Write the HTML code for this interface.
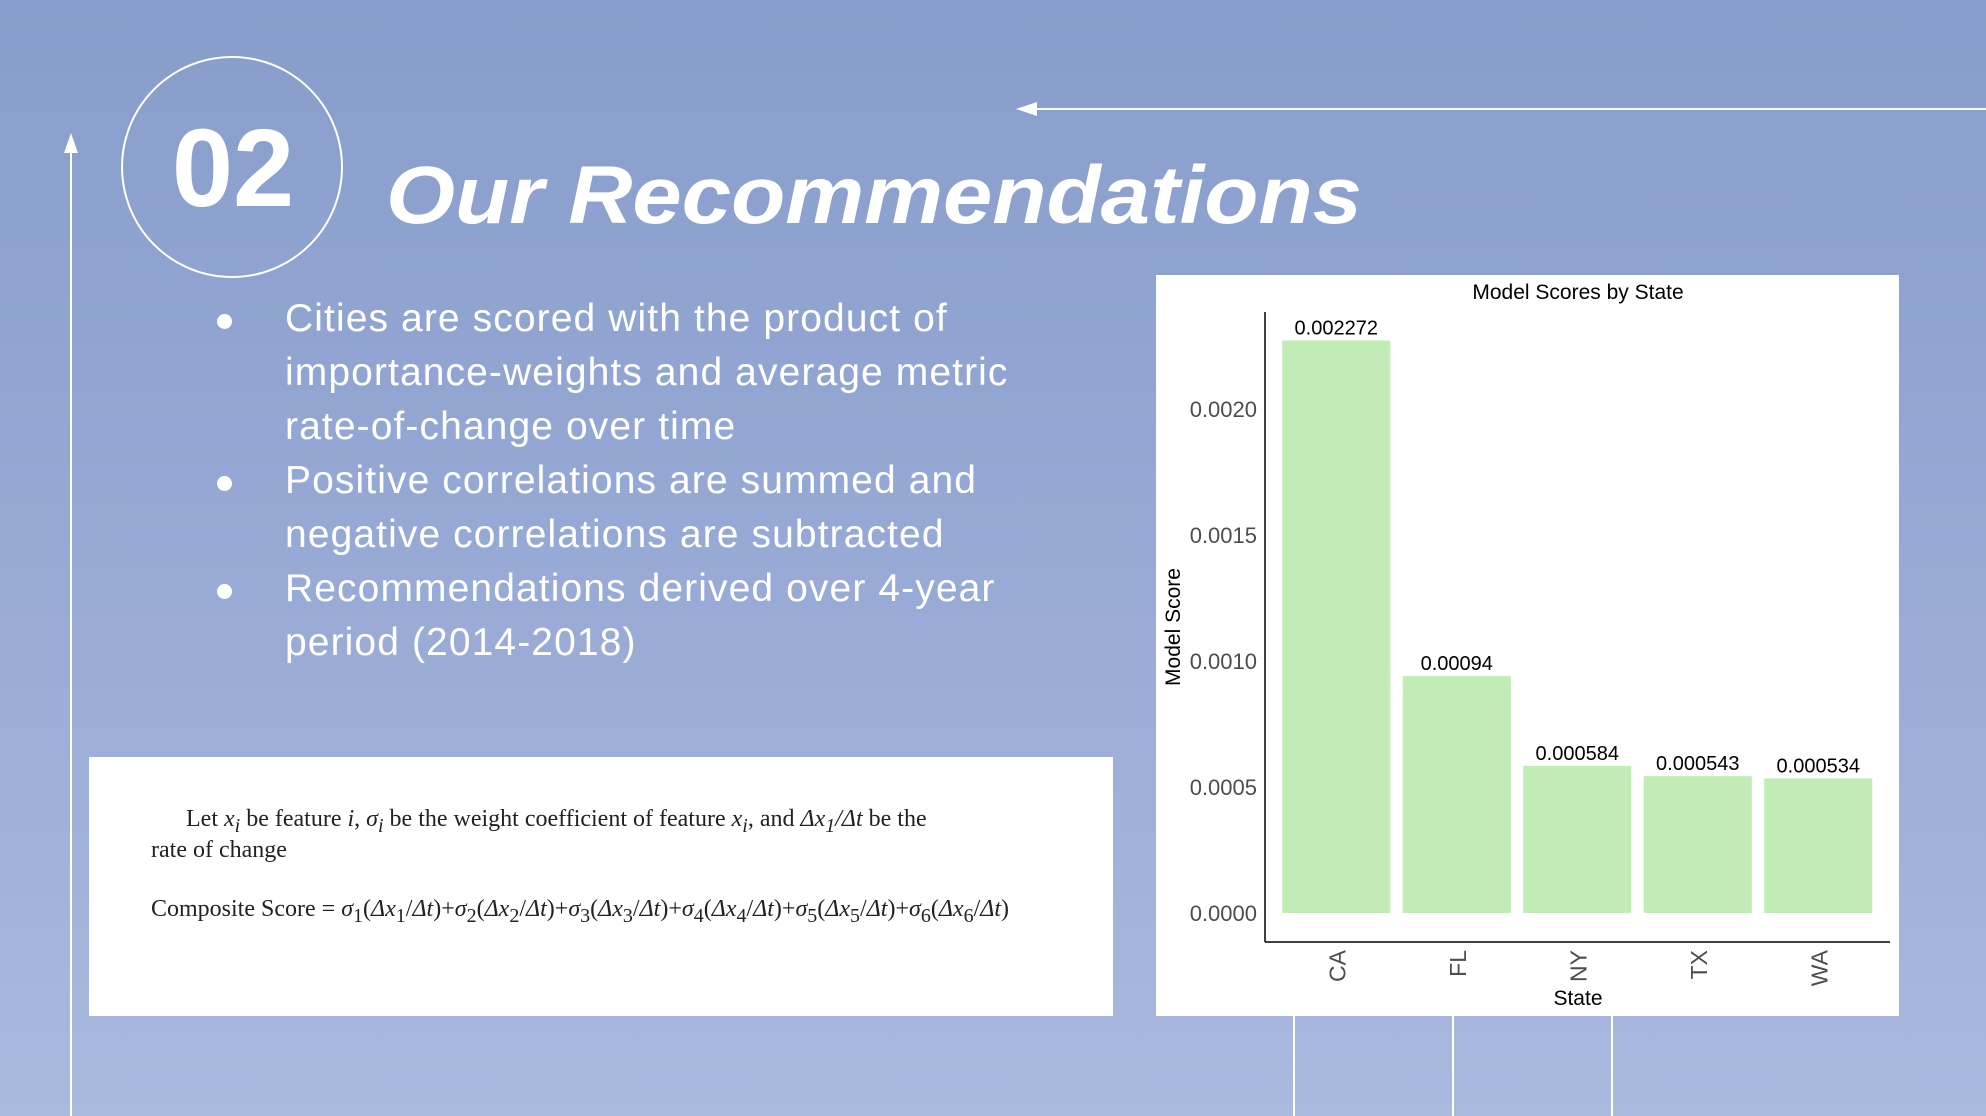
<!DOCTYPE html>
<html><head><meta charset="utf-8"><style>
html,body{margin:0;padding:0}
body{width:1986px;height:1116px;overflow:hidden;position:relative;font-family:"Liberation Sans",sans-serif;background:linear-gradient(180deg,#889dcb 0%,#97a9d5 50%,#aab9de 100%)}
.abs{position:absolute}
ul{margin:0;padding:0;list-style:none}
li{position:relative;padding-left:0;color:#fff;font-size:39px;line-height:54px;letter-spacing:1.1px}
li::before{content:"";position:absolute;left:-68px;top:22px;width:15px;height:15px;border-radius:50%;background:#fff}
.f{font-family:"Liberation Serif",serif;font-size:24px;color:#222;position:absolute;white-space:nowrap}
</style></head><body>
<svg class="abs" style="left:0;top:0" width="1986" height="1116">
<line x1="1030" y1="109" x2="1986" y2="109" stroke="#fff" stroke-width="2"/>
<polygon points="1016,109 1037,102 1037,116" fill="#fff"/>
<line x1="71" y1="150" x2="71" y2="1116" stroke="#fff" stroke-width="2"/>
<polygon points="71,133 64,153 78,153" fill="#fff"/>
<circle cx="232" cy="167" r="110" fill="none" stroke="#fff" stroke-width="2"/>
<text x="233" y="206" text-anchor="middle" font-size="110" font-weight="bold" fill="#fff" font-family="Liberation Sans, sans-serif">02</text>
<text x="386" y="223" font-size="82" font-weight="bold" font-style="italic" fill="#fff" font-family="Liberation Sans, sans-serif" textLength="976" lengthAdjust="spacingAndGlyphs">Our Recommendations</text>
<line x1="1294" y1="1016" x2="1294" y2="1116" stroke="#fff" stroke-width="2"/>
<line x1="1453" y1="1016" x2="1453" y2="1116" stroke="#fff" stroke-width="2"/>
<line x1="1612" y1="1016" x2="1612" y2="1116" stroke="#fff" stroke-width="2"/>
</svg>
<ul class="abs" style="left:285px;top:292px;width:800px">
<li>Cities are scored with the product of importance-weights and average metric rate-of-change over time</li>
<li>Positive correlations are summed and negative correlations are subtracted</li>
<li>Recommendations derived over 4-year period (2014-2018)</li>
</ul>
<div class="abs" style="left:89px;top:757px;width:1024px;height:259px;background:#fff">
<div class="f" style="left:97px;top:49px">Let <i>x<sub>i</sub></i> be feature <i>i</i>, <i>σ<sub>i</sub></i> be the weight coefficient of feature <i>x<sub>i</sub></i>, and <i>Δx<sub>1</sub>/Δt</i> be the</div>
<div class="f" style="left:62px;top:80px">rate of change</div>
<div class="f" style="left:62px;top:139px">Composite Score = <i>σ</i><sub>1</sub>(<i>Δx</i><sub>1</sub>/<i>Δt</i>)+<i>σ</i><sub>2</sub>(<i>Δx</i><sub>2</sub>/<i>Δt</i>)+<i>σ</i><sub>3</sub>(<i>Δx</i><sub>3</sub>/<i>Δt</i>)+<i>σ</i><sub>4</sub>(<i>Δx</i><sub>4</sub>/<i>Δt</i>)+<i>σ</i><sub>5</sub>(<i>Δx</i><sub>5</sub>/<i>Δt</i>)+<i>σ</i><sub>6</sub>(<i>Δx</i><sub>6</sub>/<i>Δt</i>)</div>
</div>
<div class="abs" style="left:1156px;top:275px;width:743px;height:741px;background:#fff"></div>
<svg id="chart" class="abs" style="left:0;top:0" width="1986" height="1116"></svg>
<script>
const categories=["CA","FL","NY","TX","WA"];
const values=[0.002272,0.00094,0.000584,0.000543,0.000534];
const valueLabels=["0.002272","0.00094","0.000584","0.000543","0.000534"];
const yTicks=[0,0.0005,0.001,0.0015,0.002];
const yTickLabels=["0.0000","0.0005","0.0010","0.0015","0.0020"];
const svg=document.getElementById('chart');
const NS='http://www.w3.org/2000/svg';
const x0=1276,band=120.5,barW=108,yBase=913,pxPerUnit=126/0.0005;
function y(v){return yBase-v*pxPerUnit;}
function xc(i){return x0+band*i+band/2;}
function mk(tag,attrs,txt){const e=document.createElementNS(NS,tag);for(const k in attrs)e.setAttribute(k,attrs[k]);if(txt!==undefined)e.textContent=txt;svg.appendChild(e);return e;}
let t=mk('text',{x:1578,y:299,'text-anchor':'middle','font-size':21,fill:'#000','font-family':'Liberation Sans, sans-serif'},'Model Scores by State');


let ya=mk('line',{x1:1265,y1:312,x2:1265,y2:942,stroke:'#000','stroke-width':1.5});


let xa=mk('line',{x1:1265,y1:942,x2:1890,y2:942,stroke:'#000','stroke-width':1.5});


yTicks.forEach((v,i)=>{
 const e=mk('text',{x:1257,y:y(v)+8,'text-anchor':'end','font-size':22,fill:'#4d4d4d','font-family':'Liberation Sans, sans-serif'},yTickLabels[i]);
 
 
});
categories.forEach((c,i)=>{
 const r=mk('rect',{x:xc(i)-barW/2,y:y(values[i]),width:barW,height:yBase-y(values[i]),fill:'#c1ecb5'});
 
 
 const l=mk('text',{x:xc(i),y:y(values[i])-6,'text-anchor':'middle','font-size':20,fill:'#000','font-family':'Liberation Sans, sans-serif'},valueLabels[i]);
 
 
 const tx=xc(i)+9,ty=950;
 const k=mk('text',{x:tx,y:ty,'text-anchor':'end','font-size':23,fill:'#4d4d4d','font-family':'Liberation Sans, sans-serif',transform:'rotate(-90 '+tx+' '+ty+')'},c);
 
 
});
let xt=mk('text',{x:1578,y:1005,'text-anchor':'middle','font-size':21,fill:'#000','font-family':'Liberation Sans, sans-serif'},'State');


let yt=mk('text',{x:1180,y:627,'text-anchor':'middle','font-size':21,fill:'#000','font-family':'Liberation Sans, sans-serif',transform:'rotate(-90 1180 627)'},'Model Score');


</script>
</body></html>
